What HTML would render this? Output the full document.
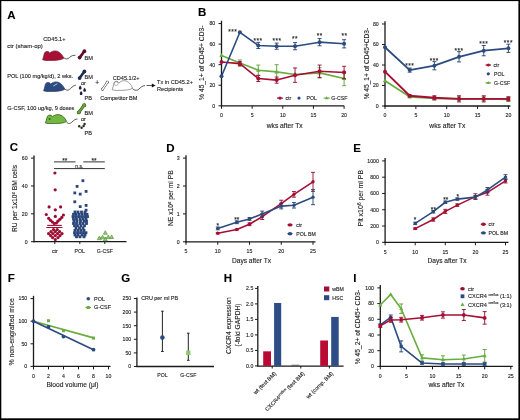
<!DOCTYPE html>
<html><head><meta charset="utf-8"><style>
html,body{margin:0;padding:0;background:#fff;width:520px;height:420px;overflow:hidden}
svg{display:block;filter:blur(0.3px)}
text{font-family:"Liberation Sans", sans-serif; stroke:#222; stroke-width:0.12px; paint-order:stroke}
</style></head><body>
<svg width="520" height="420" viewBox="0 0 520 420" font-family='"Liberation Sans", sans-serif'>
<rect x="0" y="0" width="520" height="420" fill="#fff"/>
<text x="7.3" y="18.5" font-size="11.5" text-anchor="start" fill="#000" font-weight="bold" >A</text>
<text x="198.0" y="16.2" font-size="11.5" text-anchor="start" fill="#000" font-weight="bold" >B</text>
<text x="9.8" y="151.3" font-size="11.5" text-anchor="start" fill="#000" font-weight="bold" >C</text>
<text x="166.3" y="151.5" font-size="11.5" text-anchor="start" fill="#000" font-weight="bold" >D</text>
<text x="353.3" y="151.5" font-size="11.5" text-anchor="start" fill="#000" font-weight="bold" >E</text>
<text x="7.8" y="282.3" font-size="11.5" text-anchor="start" fill="#000" font-weight="bold" >F</text>
<text x="121.3" y="282.3" font-size="11.5" text-anchor="start" fill="#000" font-weight="bold" >G</text>
<text x="223.8" y="282.3" font-size="11.5" text-anchor="start" fill="#000" font-weight="bold" >H</text>
<text x="353.3" y="282.3" font-size="11.5" text-anchor="start" fill="#000" font-weight="bold" >I</text>
<text x="43.2" y="41.3" font-size="5.6" text-anchor="start" fill="#222" font-weight="normal" >CD45.1+</text>
<text x="7.2" y="48.1" font-size="6.0" text-anchor="start" fill="#222" font-weight="normal" >ctr (sham-op)</text>
<g transform="translate(42.4 50.8) scale(1.0 1.12)"><path d="M0.2,8.0 C0.8,6.5 1.5,4.5 1.8,2.8 C2.0,0.8 4.5,0 6.2,0.9 C6.8,1.4 7.0,2.0 7.2,2.2 C9,0.6 11,0 13,0.1 C17,0.3 20,3.5 21.4,6.6 C19,8.2 14,8.6 8,8.6 C5,8.6 2,8.8 0.2,8.0 Z" fill="#a80f35" stroke="#6e0a22" stroke-width="0.6" stroke-linejoin="round"/></g>
<path d="M63.8,57.6 C65.5,59.5 67.5,59.5 69.5,57.5 C71.5,55.5 73.5,55.3 75.5,55.3" fill="none" stroke="#222" stroke-width="0.75"/>
<line x1="79.60" y1="57.60" x2="84.40" y2="51.20" stroke="#5e0d22" stroke-width="2.6" stroke-linecap="round"/>
<circle cx="79.6" cy="57.6" r="1.9" fill="#5e0d22"/>
<circle cx="84.4" cy="51.2" r="1.9" fill="#5e0d22"/>
<text x="84.6" y="60.2" font-size="5.6" text-anchor="start" fill="#222" font-weight="normal" >BM</text>
<text x="7.2" y="78.2" font-size="5.6" text-anchor="start" fill="#222" font-weight="normal" >POL (100 mg/kg/d), 2 wks.</text>
<g transform="translate(43.4 81.8) scale(1.0 1.12)"><path d="M0.2,8.0 C0.8,6.5 1.5,4.5 1.8,2.8 C2.0,0.8 4.5,0 6.2,0.9 C6.8,1.4 7.0,2.0 7.2,2.2 C9,0.6 11,0 13,0.1 C17,0.3 20,3.5 21.4,6.6 C19,8.2 14,8.6 8,8.6 C5,8.6 2,8.8 0.2,8.0 Z" fill="#2b4a80" stroke="#1a2d52" stroke-width="0.6" stroke-linejoin="round"/></g>
<path d="M53.6,85.8 L57,83.9" stroke="#dde6f0" stroke-width="0.8" stroke-linecap="round"/>
<path d="M64.8,88.8 C66.5,90.8 68.5,90.5 70.5,88.5 C72.5,86.5 74.5,85.3 76,85" fill="none" stroke="#222" stroke-width="0.75"/>
<line x1="79.60" y1="78.10" x2="84.40" y2="71.50" stroke="#1f2d50" stroke-width="2.6" stroke-linecap="round"/>
<circle cx="79.6" cy="78.1" r="1.9" fill="#1f2d50"/>
<circle cx="84.4" cy="71.5" r="1.9" fill="#1f2d50"/>
<text x="84.6" y="79.2" font-size="5.6" text-anchor="start" fill="#222" font-weight="normal" >BM</text>
<text x="81.0" y="85.3" font-size="5.6" text-anchor="start" fill="#222" font-weight="normal" >or</text>
<path d="M80.2,85.5 C82.10000000000001,87.5 81.9,89.5 80.2,89.5 C78.5,89.5 78.3,87.5 80.2,85.5 Z" fill="#1a2238"/>
<path d="M84.6,87.7 C86.5,89.7 86.3,91.7 84.6,91.7 C82.89999999999999,91.7 82.69999999999999,89.7 84.6,87.7 Z" fill="#1a2238"/>
<path d="M81.1,91.10000000000001 C83.0,93.10000000000001 82.8,95.10000000000001 81.1,95.10000000000001 C79.39999999999999,95.10000000000001 79.19999999999999,93.10000000000001 81.1,91.10000000000001 Z" fill="#1a2238"/>
<text x="84.6" y="99.5" font-size="5.6" text-anchor="start" fill="#222" font-weight="normal" >PB</text>
<text x="7.2" y="110.3" font-size="5.6" text-anchor="start" fill="#222" font-weight="normal" >G-CSF, 100 ug/kg, 9 doses</text>
<g transform="translate(45.2 114.5) scale(1.0 1.05)"><path d="M0.2,8.0 C0.8,6.5 1.5,4.5 1.8,2.8 C2.0,0.8 4.5,0 6.2,0.9 C6.8,1.4 7.0,2.0 7.2,2.2 C9,0.6 11,0 13,0.1 C17,0.3 20,3.5 21.4,6.6 C19,8.2 14,8.6 8,8.6 C5,8.6 2,8.8 0.2,8.0 Z" fill="#72b843" stroke="#2f5a16" stroke-width="0.75" stroke-linejoin="round"/></g>
<circle cx="49.6" cy="119" r="1.0" fill="#2f6a18"/>
<path d="M66.6,122 C68,124 70,124 72,122 C74,120 75.5,119 77.5,119" fill="none" stroke="#222" stroke-width="0.75"/>
<line x1="78.80" y1="112.40" x2="84.20" y2="105.20" stroke="#2a441a" stroke-width="2.8" stroke-linecap="round"/>
<circle cx="78.8" cy="112.4" r="1.9" fill="#2a441a"/>
<circle cx="84.2" cy="105.2" r="1.9" fill="#2a441a"/>
<line x1="78.80" y1="112.40" x2="84.20" y2="105.20" stroke="#68a63a" stroke-width="1.8" stroke-linecap="round"/>
<circle cx="78.8" cy="112.4" r="1.4" fill="#68a63a"/>
<circle cx="84.2" cy="105.2" r="1.4" fill="#68a63a"/>
<text x="84.6" y="114.5" font-size="5.6" text-anchor="start" fill="#222" font-weight="normal" >BM</text>
<text x="81.0" y="121.2" font-size="5.6" text-anchor="start" fill="#222" font-weight="normal" >or</text>
<circle cx="79.2" cy="126.3" r="1.2" fill="#28301f"/>
<circle cx="81.6" cy="127.8" r="1.2" fill="#28301f"/>
<circle cx="83.6" cy="126.0" r="1.2" fill="#28301f"/>
<circle cx="84.6" cy="124.0" r="1.2" fill="#28301f"/>
<text x="84.6" y="134.6" font-size="5.6" text-anchor="start" fill="#222" font-weight="normal" >PB</text>
<text x="97.2" y="84.8" font-size="6.5" text-anchor="middle" fill="#222" font-weight="normal" >+</text>
<line x1="102.50" y1="89.30" x2="107.30" y2="82.30" stroke="#333" stroke-width="2.2" stroke-linecap="round"/>
<circle cx="102.5" cy="89.3" r="1.45" fill="#333"/>
<circle cx="107.3" cy="82.3" r="1.45" fill="#333"/>
<line x1="102.50" y1="89.30" x2="107.30" y2="82.30" stroke="#fff" stroke-width="1.3" stroke-linecap="round"/>
<circle cx="102.5" cy="89.3" r="1.0" fill="#fff"/>
<circle cx="107.3" cy="82.3" r="1.0" fill="#fff"/>
<text x="112.7" y="79.6" font-size="5.6" text-anchor="start" fill="#222" font-weight="normal" >CD45.1/2+</text>
<g transform="translate(112.0 80.6) scale(0.96 1.14)"><path d="M0.2,8.0 C0.8,6.5 1.5,4.5 1.8,2.8 C2.0,0.8 4.5,0 6.2,0.9 C6.8,1.4 7.0,2.0 7.2,2.2 C9,0.6 11,0 13,0.1 C17,0.3 20,3.5 21.4,6.6 C19,8.2 14,8.6 8,8.6 C5,8.6 2,8.8 0.2,8.0 Z" fill="#fff" stroke="#333" stroke-width="0.45" stroke-linejoin="round"/></g>
<circle cx="116.2" cy="83.6" r="1.9" fill="none" stroke="#555" stroke-width="0.4"/>
<path d="M132.4,88.6 C134.5,90.5 137,91 139,89 C141,87 142.5,85.8 145,85.6" fill="none" stroke="#222" stroke-width="0.75"/>
<line x1="146.50" y1="85.50" x2="152.50" y2="85.50" stroke="#111" stroke-width="0.7" />
<polygon points="155.6,85.5 151.8,83.6 151.8,87.4" fill="#111"/>
<text x="100.2" y="99.6" font-size="5.6" text-anchor="start" fill="#222" font-weight="normal" >Competitor BM</text>
<text x="157.0" y="84.0" font-size="5.6" text-anchor="start" fill="#222" font-weight="normal" >Tx in CD45.2+</text>
<text x="157.0" y="91.2" font-size="5.6" text-anchor="start" fill="#222" font-weight="normal" >Recipients</text>
<line x1="221.50" y1="20.76" x2="221.50" y2="106.45" stroke="#1a1a1a" stroke-width="1.3" />
<line x1="220.85" y1="105.80" x2="344.10" y2="105.80" stroke="#1a1a1a" stroke-width="1.3" />
<line x1="218.50" y1="105.80" x2="221.50" y2="105.80" stroke="#1a1a1a" stroke-width="1.0" />
<text x="215.2" y="107.672" font-size="5.2" text-anchor="end" fill="#222" font-weight="normal" >0</text>
<line x1="218.50" y1="85.24" x2="221.50" y2="85.24" stroke="#1a1a1a" stroke-width="1.0" />
<text x="215.2" y="87.112" font-size="5.2" text-anchor="end" fill="#222" font-weight="normal" >20</text>
<line x1="218.50" y1="64.68" x2="221.50" y2="64.68" stroke="#1a1a1a" stroke-width="1.0" />
<text x="215.2" y="66.55199999999999" font-size="5.2" text-anchor="end" fill="#222" font-weight="normal" >40</text>
<line x1="218.50" y1="44.12" x2="221.50" y2="44.12" stroke="#1a1a1a" stroke-width="1.0" />
<text x="215.2" y="45.992" font-size="5.2" text-anchor="end" fill="#222" font-weight="normal" >60</text>
<line x1="218.50" y1="23.56" x2="221.50" y2="23.56" stroke="#1a1a1a" stroke-width="1.0" />
<text x="215.2" y="25.431999999999988" font-size="5.2" text-anchor="end" fill="#222" font-weight="normal" >80</text>
<line x1="221.50" y1="105.80" x2="221.50" y2="108.80" stroke="#1a1a1a" stroke-width="1.0" />
<text x="221.5" y="117.0" font-size="5.2" text-anchor="middle" fill="#222" font-weight="normal" >0</text>
<line x1="252.15" y1="105.80" x2="252.15" y2="108.80" stroke="#1a1a1a" stroke-width="1.0" />
<text x="252.15" y="117.0" font-size="5.2" text-anchor="middle" fill="#222" font-weight="normal" >5</text>
<line x1="282.80" y1="105.80" x2="282.80" y2="108.80" stroke="#1a1a1a" stroke-width="1.0" />
<text x="282.8" y="117.0" font-size="5.2" text-anchor="middle" fill="#222" font-weight="normal" >10</text>
<line x1="313.45" y1="105.80" x2="313.45" y2="108.80" stroke="#1a1a1a" stroke-width="1.0" />
<text x="313.45" y="117.0" font-size="5.2" text-anchor="middle" fill="#222" font-weight="normal" >15</text>
<line x1="344.10" y1="105.80" x2="344.10" y2="108.80" stroke="#1a1a1a" stroke-width="1.0" />
<text x="344.1" y="117.0" font-size="5.2" text-anchor="middle" fill="#222" font-weight="normal" >20</text>
<text x="284.7" y="128.3" font-size="6.7" text-anchor="middle" fill="#222" font-weight="normal" >wks after Tx</text>
<text x="204.0" y="62.7" font-size="6.7" text-anchor="middle" fill="#222" font-weight="normal" transform="rotate(-90 204.0 62.7)" >% 45_1+ of CD45+ CD3-</text>
<line x1="239.89" y1="59.95" x2="239.89" y2="66.12" stroke="#5f9f38" stroke-width="0.9" />
<line x1="237.89" y1="59.95" x2="241.89" y2="59.95" stroke="#5f9f38" stroke-width="0.9" />
<line x1="237.89" y1="66.12" x2="241.89" y2="66.12" stroke="#5f9f38" stroke-width="0.9" />
<line x1="258.28" y1="65.09" x2="258.28" y2="75.37" stroke="#5f9f38" stroke-width="0.9" />
<line x1="256.28" y1="65.09" x2="260.28" y2="65.09" stroke="#5f9f38" stroke-width="0.9" />
<line x1="256.28" y1="75.37" x2="260.28" y2="75.37" stroke="#5f9f38" stroke-width="0.9" />
<line x1="276.67" y1="64.68" x2="276.67" y2="79.07" stroke="#5f9f38" stroke-width="0.9" />
<line x1="274.67" y1="64.68" x2="278.67" y2="64.68" stroke="#5f9f38" stroke-width="0.9" />
<line x1="274.67" y1="79.07" x2="278.67" y2="79.07" stroke="#5f9f38" stroke-width="0.9" />
<line x1="319.58" y1="67.76" x2="319.58" y2="78.04" stroke="#5f9f38" stroke-width="0.9" />
<line x1="317.58" y1="67.76" x2="321.58" y2="67.76" stroke="#5f9f38" stroke-width="0.9" />
<line x1="317.58" y1="78.04" x2="321.58" y2="78.04" stroke="#5f9f38" stroke-width="0.9" />
<line x1="344.10" y1="71.26" x2="344.10" y2="85.65" stroke="#5f9f38" stroke-width="0.9" />
<line x1="342.10" y1="71.26" x2="346.10" y2="71.26" stroke="#5f9f38" stroke-width="0.9" />
<line x1="342.10" y1="85.65" x2="346.10" y2="85.65" stroke="#5f9f38" stroke-width="0.9" />
<polyline points="221.50,55.43 239.89,63.04 258.28,70.23 276.67,71.88 295.06,74.45 319.58,72.90 344.10,78.46" fill="none" stroke="#68ad3e" stroke-width="1.6" stroke-linejoin="round"/>
<polygon points="221.50,53.01 223.70,56.97 219.30,56.97" fill="#68ad3e"/>
<polygon points="239.89,60.62 242.09,64.58 237.69,64.58" fill="#68ad3e"/>
<polygon points="258.28,67.81 260.48,71.77 256.08,71.77" fill="#68ad3e"/>
<polygon points="276.67,69.46 278.87,73.42 274.47,73.42" fill="#68ad3e"/>
<polygon points="295.06,72.03 297.26,75.99 292.86,75.99" fill="#68ad3e"/>
<polygon points="319.58,70.48 321.78,74.44 317.38,74.44" fill="#68ad3e"/>
<polygon points="344.10,76.04 346.30,80.00 341.90,80.00" fill="#68ad3e"/>
<line x1="239.89" y1="61.60" x2="239.89" y2="65.71" stroke="#8a0b2a" stroke-width="0.9" />
<line x1="237.89" y1="61.60" x2="241.89" y2="61.60" stroke="#8a0b2a" stroke-width="0.9" />
<line x1="237.89" y1="65.71" x2="241.89" y2="65.71" stroke="#8a0b2a" stroke-width="0.9" />
<line x1="258.28" y1="75.37" x2="258.28" y2="81.54" stroke="#8a0b2a" stroke-width="0.9" />
<line x1="256.28" y1="75.37" x2="260.28" y2="75.37" stroke="#8a0b2a" stroke-width="0.9" />
<line x1="256.28" y1="81.54" x2="260.28" y2="81.54" stroke="#8a0b2a" stroke-width="0.9" />
<line x1="276.67" y1="77.02" x2="276.67" y2="83.18" stroke="#8a0b2a" stroke-width="0.9" />
<line x1="274.67" y1="77.02" x2="278.67" y2="77.02" stroke="#8a0b2a" stroke-width="0.9" />
<line x1="274.67" y1="83.18" x2="278.67" y2="83.18" stroke="#8a0b2a" stroke-width="0.9" />
<line x1="295.06" y1="67.97" x2="295.06" y2="82.36" stroke="#8a0b2a" stroke-width="0.9" />
<line x1="293.06" y1="67.97" x2="297.06" y2="67.97" stroke="#8a0b2a" stroke-width="0.9" />
<line x1="293.06" y1="82.36" x2="297.06" y2="82.36" stroke="#8a0b2a" stroke-width="0.9" />
<line x1="319.58" y1="65.09" x2="319.58" y2="77.43" stroke="#8a0b2a" stroke-width="0.9" />
<line x1="317.58" y1="65.09" x2="321.58" y2="65.09" stroke="#8a0b2a" stroke-width="0.9" />
<line x1="317.58" y1="77.43" x2="321.58" y2="77.43" stroke="#8a0b2a" stroke-width="0.9" />
<line x1="344.10" y1="66.32" x2="344.10" y2="78.66" stroke="#8a0b2a" stroke-width="0.9" />
<line x1="342.10" y1="66.32" x2="346.10" y2="66.32" stroke="#8a0b2a" stroke-width="0.9" />
<line x1="342.10" y1="78.66" x2="346.10" y2="78.66" stroke="#8a0b2a" stroke-width="0.9" />
<polyline points="221.50,62.01 239.89,63.65 258.28,78.46 276.67,80.10 295.06,75.17 319.58,71.26 344.10,72.49" fill="none" stroke="#a80e34" stroke-width="1.6" stroke-linejoin="round"/>
<circle cx="221.50" cy="62.01" r="2.0" fill="#a80e34"/>
<circle cx="239.89" cy="63.65" r="2.0" fill="#a80e34"/>
<circle cx="258.28" cy="78.46" r="2.0" fill="#a80e34"/>
<circle cx="276.67" cy="80.10" r="2.0" fill="#a80e34"/>
<circle cx="295.06" cy="75.17" r="2.0" fill="#a80e34"/>
<circle cx="319.58" cy="71.26" r="2.0" fill="#a80e34"/>
<circle cx="344.10" cy="72.49" r="2.0" fill="#a80e34"/>
<line x1="258.28" y1="42.37" x2="258.28" y2="48.54" stroke="#24406e" stroke-width="0.9" />
<line x1="256.28" y1="42.37" x2="260.28" y2="42.37" stroke="#24406e" stroke-width="0.9" />
<line x1="256.28" y1="48.54" x2="260.28" y2="48.54" stroke="#24406e" stroke-width="0.9" />
<line x1="276.67" y1="43.09" x2="276.67" y2="49.26" stroke="#24406e" stroke-width="0.9" />
<line x1="274.67" y1="43.09" x2="278.67" y2="43.09" stroke="#24406e" stroke-width="0.9" />
<line x1="274.67" y1="49.26" x2="278.67" y2="49.26" stroke="#24406e" stroke-width="0.9" />
<line x1="295.06" y1="42.58" x2="295.06" y2="49.77" stroke="#24406e" stroke-width="0.9" />
<line x1="293.06" y1="42.58" x2="297.06" y2="42.58" stroke="#24406e" stroke-width="0.9" />
<line x1="293.06" y1="49.77" x2="297.06" y2="49.77" stroke="#24406e" stroke-width="0.9" />
<line x1="319.58" y1="38.57" x2="319.58" y2="45.76" stroke="#24406e" stroke-width="0.9" />
<line x1="317.58" y1="38.57" x2="321.58" y2="38.57" stroke="#24406e" stroke-width="0.9" />
<line x1="317.58" y1="45.76" x2="321.58" y2="45.76" stroke="#24406e" stroke-width="0.9" />
<line x1="344.10" y1="39.70" x2="344.10" y2="47.92" stroke="#24406e" stroke-width="0.9" />
<line x1="342.10" y1="39.70" x2="346.10" y2="39.70" stroke="#24406e" stroke-width="0.9" />
<line x1="342.10" y1="47.92" x2="346.10" y2="47.92" stroke="#24406e" stroke-width="0.9" />
<polyline points="221.50,76.19 239.89,32.30 258.28,45.46 276.67,46.18 295.06,46.18 319.58,42.17 344.10,43.81" fill="none" stroke="#2c4b80" stroke-width="1.6" stroke-linejoin="round"/>
<circle cx="221.50" cy="76.19" r="2.0" fill="#2c4b80"/>
<circle cx="239.89" cy="32.30" r="2.0" fill="#2c4b80"/>
<circle cx="258.28" cy="45.46" r="2.0" fill="#2c4b80"/>
<circle cx="276.67" cy="46.18" r="2.0" fill="#2c4b80"/>
<circle cx="295.06" cy="46.18" r="2.0" fill="#2c4b80"/>
<circle cx="319.58" cy="42.17" r="2.0" fill="#2c4b80"/>
<circle cx="344.10" cy="43.81" r="2.0" fill="#2c4b80"/>
<text x="232.8" y="34.3" font-size="6.5" text-anchor="middle" fill="#222" font-weight="normal" letter-spacing="0.5">***</text>
<text x="258" y="43" font-size="6.5" text-anchor="middle" fill="#222" font-weight="normal" letter-spacing="0.5">***</text>
<text x="277" y="43" font-size="6.5" text-anchor="middle" fill="#222" font-weight="normal" letter-spacing="0.5">***</text>
<text x="295" y="41" font-size="6.5" text-anchor="middle" fill="#222" font-weight="normal" letter-spacing="0.5">**</text>
<text x="319.7" y="37.5" font-size="6.5" text-anchor="middle" fill="#222" font-weight="normal" letter-spacing="0.5">**</text>
<text x="344.5" y="37.8" font-size="6.5" text-anchor="middle" fill="#222" font-weight="normal" letter-spacing="0.5">**</text>
<circle cx="280.00" cy="98.10" r="1.6" fill="#a80e34"/>
<line x1="277.00" y1="98.10" x2="283.00" y2="98.10" stroke="#a80e34" stroke-width="1.2" />
<text x="285.5" y="100" font-size="5.2" text-anchor="start" fill="#222" font-weight="normal" >ctr</text>
<circle cx="299.00" cy="98.10" r="1.6" fill="#2c4b80"/>
<text x="306.5" y="100" font-size="5.2" text-anchor="start" fill="#222" font-weight="normal" >POL</text>
<polygon points="326.70,96.23 328.40,99.29 325.00,99.29" fill="#68ad3e"/>
<line x1="323.70" y1="98.10" x2="329.70" y2="98.10" stroke="#68ad3e" stroke-width="1.2" />
<text x="331.3" y="100" font-size="5.2" text-anchor="start" fill="#222" font-weight="normal" >G-CSF</text>
<line x1="385.00" y1="21.20" x2="385.00" y2="106.65" stroke="#1a1a1a" stroke-width="1.3" />
<line x1="384.35" y1="106.00" x2="510.40" y2="106.00" stroke="#1a1a1a" stroke-width="1.3" />
<line x1="382.00" y1="106.00" x2="385.00" y2="106.00" stroke="#1a1a1a" stroke-width="1.0" />
<text x="378.7" y="107.872" font-size="5.2" text-anchor="end" fill="#222" font-weight="normal" >0</text>
<line x1="382.00" y1="85.50" x2="385.00" y2="85.50" stroke="#1a1a1a" stroke-width="1.0" />
<text x="378.7" y="87.372" font-size="5.2" text-anchor="end" fill="#222" font-weight="normal" >20</text>
<line x1="382.00" y1="65.00" x2="385.00" y2="65.00" stroke="#1a1a1a" stroke-width="1.0" />
<text x="378.7" y="66.872" font-size="5.2" text-anchor="end" fill="#222" font-weight="normal" >40</text>
<line x1="382.00" y1="44.50" x2="385.00" y2="44.50" stroke="#1a1a1a" stroke-width="1.0" />
<text x="378.7" y="46.37200000000001" font-size="5.2" text-anchor="end" fill="#222" font-weight="normal" >60</text>
<line x1="382.00" y1="24.00" x2="385.00" y2="24.00" stroke="#1a1a1a" stroke-width="1.0" />
<text x="378.7" y="25.872" font-size="5.2" text-anchor="end" fill="#222" font-weight="normal" >80</text>
<line x1="385.00" y1="106.00" x2="385.00" y2="109.00" stroke="#1a1a1a" stroke-width="1.0" />
<text x="385.0" y="117.2" font-size="5.2" text-anchor="middle" fill="#222" font-weight="normal" >0</text>
<line x1="415.85" y1="106.00" x2="415.85" y2="109.00" stroke="#1a1a1a" stroke-width="1.0" />
<text x="415.85" y="117.2" font-size="5.2" text-anchor="middle" fill="#222" font-weight="normal" >5</text>
<line x1="446.70" y1="106.00" x2="446.70" y2="109.00" stroke="#1a1a1a" stroke-width="1.0" />
<text x="446.7" y="117.2" font-size="5.2" text-anchor="middle" fill="#222" font-weight="normal" >10</text>
<line x1="477.55" y1="106.00" x2="477.55" y2="109.00" stroke="#1a1a1a" stroke-width="1.0" />
<text x="477.55" y="117.2" font-size="5.2" text-anchor="middle" fill="#222" font-weight="normal" >15</text>
<line x1="508.40" y1="106.00" x2="508.40" y2="109.00" stroke="#1a1a1a" stroke-width="1.0" />
<text x="508.4" y="117.2" font-size="5.2" text-anchor="middle" fill="#222" font-weight="normal" >20</text>
<text x="447.3" y="128.4" font-size="6.7" text-anchor="middle" fill="#222" font-weight="normal" >wks after Tx</text>
<text x="368.8" y="63.6" font-size="6.6" text-anchor="middle" fill="#222" font-weight="normal" transform="rotate(-90 368.8 63.6)" >% 45_1+ of CD45+CD3-</text>
<line x1="409.68" y1="95.75" x2="409.68" y2="97.80" stroke="#5f9f38" stroke-width="0.9" />
<line x1="407.68" y1="95.75" x2="411.68" y2="95.75" stroke="#5f9f38" stroke-width="0.9" />
<line x1="407.68" y1="97.80" x2="411.68" y2="97.80" stroke="#5f9f38" stroke-width="0.9" />
<line x1="434.36" y1="96.78" x2="434.36" y2="99.85" stroke="#5f9f38" stroke-width="0.9" />
<line x1="432.36" y1="96.78" x2="436.36" y2="96.78" stroke="#5f9f38" stroke-width="0.9" />
<line x1="432.36" y1="99.85" x2="436.36" y2="99.85" stroke="#5f9f38" stroke-width="0.9" />
<line x1="459.04" y1="96.78" x2="459.04" y2="100.88" stroke="#5f9f38" stroke-width="0.9" />
<line x1="457.04" y1="96.78" x2="461.04" y2="96.78" stroke="#5f9f38" stroke-width="0.9" />
<line x1="457.04" y1="100.88" x2="461.04" y2="100.88" stroke="#5f9f38" stroke-width="0.9" />
<line x1="483.72" y1="96.78" x2="483.72" y2="100.88" stroke="#5f9f38" stroke-width="0.9" />
<line x1="481.72" y1="96.78" x2="485.72" y2="96.78" stroke="#5f9f38" stroke-width="0.9" />
<line x1="481.72" y1="100.88" x2="485.72" y2="100.88" stroke="#5f9f38" stroke-width="0.9" />
<line x1="508.40" y1="97.29" x2="508.40" y2="101.39" stroke="#5f9f38" stroke-width="0.9" />
<line x1="506.40" y1="97.29" x2="510.40" y2="97.29" stroke="#5f9f38" stroke-width="0.9" />
<line x1="506.40" y1="101.39" x2="510.40" y2="101.39" stroke="#5f9f38" stroke-width="0.9" />
<polyline points="385.00,80.68 409.68,96.78 434.36,98.31 459.04,98.83 483.72,98.83 508.40,99.34" fill="none" stroke="#68ad3e" stroke-width="1.8" stroke-linejoin="round"/>
<polygon points="385.00,78.26 387.20,82.22 382.80,82.22" fill="#68ad3e"/>
<polygon points="409.68,94.36 411.88,98.32 407.48,98.32" fill="#68ad3e"/>
<polygon points="434.36,95.89 436.56,99.85 432.16,99.85" fill="#68ad3e"/>
<polygon points="459.04,96.41 461.24,100.37 456.84,100.37" fill="#68ad3e"/>
<polygon points="483.72,96.41 485.92,100.37 481.52,100.37" fill="#68ad3e"/>
<polygon points="508.40,96.92 510.60,100.88 506.20,100.88" fill="#68ad3e"/>
<line x1="409.68" y1="94.72" x2="409.68" y2="96.78" stroke="#8a0b2a" stroke-width="0.9" />
<line x1="407.68" y1="94.72" x2="411.68" y2="94.72" stroke="#8a0b2a" stroke-width="0.9" />
<line x1="407.68" y1="96.78" x2="411.68" y2="96.78" stroke="#8a0b2a" stroke-width="0.9" />
<line x1="434.36" y1="95.75" x2="434.36" y2="99.85" stroke="#8a0b2a" stroke-width="0.9" />
<line x1="432.36" y1="95.75" x2="436.36" y2="95.75" stroke="#8a0b2a" stroke-width="0.9" />
<line x1="432.36" y1="99.85" x2="436.36" y2="99.85" stroke="#8a0b2a" stroke-width="0.9" />
<line x1="459.04" y1="95.75" x2="459.04" y2="101.90" stroke="#8a0b2a" stroke-width="0.9" />
<line x1="457.04" y1="95.75" x2="461.04" y2="95.75" stroke="#8a0b2a" stroke-width="0.9" />
<line x1="457.04" y1="101.90" x2="461.04" y2="101.90" stroke="#8a0b2a" stroke-width="0.9" />
<line x1="483.72" y1="95.75" x2="483.72" y2="101.90" stroke="#8a0b2a" stroke-width="0.9" />
<line x1="481.72" y1="95.75" x2="485.72" y2="95.75" stroke="#8a0b2a" stroke-width="0.9" />
<line x1="481.72" y1="101.90" x2="485.72" y2="101.90" stroke="#8a0b2a" stroke-width="0.9" />
<line x1="508.40" y1="96.78" x2="508.40" y2="100.88" stroke="#8a0b2a" stroke-width="0.9" />
<line x1="506.40" y1="96.78" x2="510.40" y2="96.78" stroke="#8a0b2a" stroke-width="0.9" />
<line x1="506.40" y1="100.88" x2="510.40" y2="100.88" stroke="#8a0b2a" stroke-width="0.9" />
<polyline points="385.00,71.66 409.68,95.75 434.36,97.80 459.04,98.83 483.72,98.83 508.40,98.83" fill="none" stroke="#a80e34" stroke-width="1.9" stroke-linejoin="round"/>
<circle cx="385.00" cy="71.66" r="2.0" fill="#a80e34"/>
<circle cx="409.68" cy="95.75" r="2.0" fill="#a80e34"/>
<circle cx="434.36" cy="97.80" r="2.0" fill="#a80e34"/>
<circle cx="459.04" cy="98.83" r="2.0" fill="#a80e34"/>
<circle cx="483.72" cy="98.83" r="2.0" fill="#a80e34"/>
<circle cx="508.40" cy="98.83" r="2.0" fill="#a80e34"/>
<line x1="409.68" y1="68.08" x2="409.68" y2="72.18" stroke="#24406e" stroke-width="0.9" />
<line x1="407.68" y1="68.08" x2="411.68" y2="68.08" stroke="#24406e" stroke-width="0.9" />
<line x1="407.68" y1="72.18" x2="411.68" y2="72.18" stroke="#24406e" stroke-width="0.9" />
<line x1="434.36" y1="61.62" x2="434.36" y2="69.82" stroke="#24406e" stroke-width="0.9" />
<line x1="432.36" y1="61.62" x2="436.36" y2="61.62" stroke="#24406e" stroke-width="0.9" />
<line x1="432.36" y1="69.82" x2="436.36" y2="69.82" stroke="#24406e" stroke-width="0.9" />
<line x1="459.04" y1="51.68" x2="459.04" y2="61.93" stroke="#24406e" stroke-width="0.9" />
<line x1="457.04" y1="51.68" x2="461.04" y2="51.68" stroke="#24406e" stroke-width="0.9" />
<line x1="457.04" y1="61.93" x2="461.04" y2="61.93" stroke="#24406e" stroke-width="0.9" />
<line x1="483.72" y1="45.53" x2="483.72" y2="55.78" stroke="#24406e" stroke-width="0.9" />
<line x1="481.72" y1="45.53" x2="485.72" y2="45.53" stroke="#24406e" stroke-width="0.9" />
<line x1="481.72" y1="55.78" x2="485.72" y2="55.78" stroke="#24406e" stroke-width="0.9" />
<line x1="508.40" y1="44.19" x2="508.40" y2="52.39" stroke="#24406e" stroke-width="0.9" />
<line x1="506.40" y1="44.19" x2="510.40" y2="44.19" stroke="#24406e" stroke-width="0.9" />
<line x1="506.40" y1="52.39" x2="510.40" y2="52.39" stroke="#24406e" stroke-width="0.9" />
<polyline points="385.00,47.27 409.68,70.12 434.36,65.72 459.04,56.80 483.72,50.65 508.40,48.29" fill="none" stroke="#2c4b80" stroke-width="1.8" stroke-linejoin="round"/>
<circle cx="385.00" cy="47.27" r="2.0" fill="#2c4b80"/>
<circle cx="409.68" cy="70.12" r="2.0" fill="#2c4b80"/>
<circle cx="434.36" cy="65.72" r="2.0" fill="#2c4b80"/>
<circle cx="459.04" cy="56.80" r="2.0" fill="#2c4b80"/>
<circle cx="483.72" cy="50.65" r="2.0" fill="#2c4b80"/>
<circle cx="508.40" cy="48.29" r="2.0" fill="#2c4b80"/>
<text x="409.68" y="67.7625" font-size="6.5" text-anchor="middle" fill="#222" font-weight="normal" letter-spacing="0.5">***</text>
<text x="434.36" y="62.6375" font-size="6.5" text-anchor="middle" fill="#222" font-weight="normal" letter-spacing="0.5">***</text>
<text x="459.03999999999996" y="53.4125" font-size="6.5" text-anchor="middle" fill="#222" font-weight="normal" letter-spacing="0.5">***</text>
<text x="483.72" y="45.72500000000001" font-size="6.5" text-anchor="middle" fill="#222" font-weight="normal" letter-spacing="0.5">***</text>
<text x="508.4" y="44.7" font-size="6.5" text-anchor="middle" fill="#222" font-weight="normal" letter-spacing="0.5">***</text>
<circle cx="488.30" cy="65.00" r="1.6" fill="#a80e34"/>
<line x1="485.50" y1="65.00" x2="491.00" y2="65.00" stroke="#a80e34" stroke-width="1.2" />
<text x="493.5" y="67" font-size="5.2" text-anchor="start" fill="#222" font-weight="normal" >ctr</text>
<circle cx="488.30" cy="73.80" r="1.6" fill="#2c4b80"/>
<text x="494" y="75.8" font-size="5.2" text-anchor="start" fill="#222" font-weight="normal" >POL</text>
<polygon points="488.30,80.93 490.00,83.99 486.60,83.99" fill="#68ad3e"/>
<line x1="485.50" y1="82.80" x2="491.00" y2="82.80" stroke="#68ad3e" stroke-width="1.2" />
<text x="494" y="84.8" font-size="5.2" text-anchor="start" fill="#222" font-weight="normal" >G-CSF</text>
<line x1="34.00" y1="155.40" x2="34.00" y2="242.30" stroke="#1a1a1a" stroke-width="1.3" />
<line x1="33.40" y1="241.70" x2="126.50" y2="241.70" stroke="#1a1a1a" stroke-width="1.3" />
<line x1="31.00" y1="241.70" x2="34.00" y2="241.70" stroke="#1a1a1a" stroke-width="1.0" />
<text x="27.6" y="243.6" font-size="5.2" text-anchor="end" fill="#222" font-weight="normal" >0</text>
<line x1="31.00" y1="213.83" x2="34.00" y2="213.83" stroke="#1a1a1a" stroke-width="1.0" />
<text x="27.6" y="215.734" font-size="5.2" text-anchor="end" fill="#222" font-weight="normal" >20</text>
<line x1="31.00" y1="185.97" x2="34.00" y2="185.97" stroke="#1a1a1a" stroke-width="1.0" />
<text x="27.6" y="187.868" font-size="5.2" text-anchor="end" fill="#222" font-weight="normal" >40</text>
<line x1="31.00" y1="158.10" x2="34.00" y2="158.10" stroke="#1a1a1a" stroke-width="1.0" />
<text x="27.6" y="160.00199999999998" font-size="5.2" text-anchor="end" fill="#222" font-weight="normal" >60</text>
<line x1="54.80" y1="241.70" x2="54.80" y2="244.00" stroke="#1a1a1a" stroke-width="1.0" />
<line x1="79.80" y1="241.70" x2="79.80" y2="244.00" stroke="#1a1a1a" stroke-width="1.0" />
<line x1="104.80" y1="241.70" x2="104.80" y2="244.00" stroke="#1a1a1a" stroke-width="1.0" />
<text x="54.8" y="252.5" font-size="5.2" text-anchor="middle" fill="#222" font-weight="normal" >ctr</text>
<text x="79.8" y="252.5" font-size="5.2" text-anchor="middle" fill="#222" font-weight="normal" >POL</text>
<text x="104.8" y="252.5" font-size="5.2" text-anchor="middle" fill="#222" font-weight="normal" >G-CSF</text>
<text x="17.0" y="198.5" font-size="6.7" text-anchor="middle" fill="#222" font-weight="normal" transform="rotate(-90 17.0 198.5)" >RU per 1x10<tspan dy="-2.2" font-size="4.4">6</tspan><tspan dy="2.2"> BM cells</tspan></text>
<line x1="54.00" y1="161.90" x2="75.50" y2="161.90" stroke="#333" stroke-width="1.0" />
<text x="64.7" y="162.8" font-size="6.5" text-anchor="middle" fill="#222" font-weight="normal" >**</text>
<line x1="83.30" y1="161.90" x2="104.80" y2="161.90" stroke="#333" stroke-width="1.0" />
<text x="94" y="162.8" font-size="6.5" text-anchor="middle" fill="#222" font-weight="normal" >**</text>
<line x1="54.00" y1="168.60" x2="104.80" y2="168.60" stroke="#333" stroke-width="1.0" />
<text x="79.4" y="167.6" font-size="5.0" text-anchor="middle" fill="#222" font-weight="normal" >n.s.</text>
<circle cx="54.90" cy="173.00" r="1.6" fill="#9c0c32"/>
<circle cx="55.20" cy="189.80" r="1.6" fill="#9c0c32"/>
<circle cx="49.10" cy="206.90" r="1.6" fill="#9c0c32"/>
<circle cx="55.30" cy="209.80" r="1.6" fill="#9c0c32"/>
<circle cx="60.60" cy="206.90" r="1.6" fill="#9c0c32"/>
<circle cx="46.30" cy="214.50" r="1.6" fill="#9c0c32"/>
<circle cx="55.30" cy="216.40" r="1.6" fill="#9c0c32"/>
<circle cx="63.40" cy="215.00" r="1.6" fill="#9c0c32"/>
<circle cx="48.70" cy="218.30" r="1.6" fill="#9c0c32"/>
<circle cx="50.50" cy="220.30" r="1.6" fill="#9c0c32"/>
<circle cx="52.40" cy="222.00" r="1.6" fill="#9c0c32"/>
<circle cx="54.30" cy="223.50" r="1.6" fill="#9c0c32"/>
<circle cx="61.80" cy="217.40" r="1.6" fill="#9c0c32"/>
<circle cx="59.90" cy="219.30" r="1.6" fill="#9c0c32"/>
<circle cx="57.90" cy="221.20" r="1.6" fill="#9c0c32"/>
<circle cx="56.40" cy="223.00" r="1.6" fill="#9c0c32"/>
<circle cx="53.50" cy="229.60" r="1.6" fill="#9c0c32"/>
<circle cx="57.20" cy="229.60" r="1.6" fill="#9c0c32"/>
<circle cx="51.00" cy="231.60" r="1.6" fill="#9c0c32"/>
<circle cx="55.30" cy="231.60" r="1.6" fill="#9c0c32"/>
<circle cx="59.60" cy="231.60" r="1.6" fill="#9c0c32"/>
<circle cx="48.60" cy="233.60" r="1.6" fill="#9c0c32"/>
<circle cx="52.90" cy="233.60" r="1.6" fill="#9c0c32"/>
<circle cx="57.60" cy="233.60" r="1.6" fill="#9c0c32"/>
<circle cx="62.00" cy="233.60" r="1.6" fill="#9c0c32"/>
<circle cx="50.60" cy="235.60" r="1.6" fill="#9c0c32"/>
<circle cx="55.30" cy="235.60" r="1.6" fill="#9c0c32"/>
<circle cx="60.00" cy="235.60" r="1.6" fill="#9c0c32"/>
<circle cx="52.60" cy="237.60" r="1.6" fill="#9c0c32"/>
<circle cx="58.00" cy="237.60" r="1.6" fill="#9c0c32"/>
<circle cx="55.30" cy="239.60" r="1.6" fill="#9c0c32"/>
<line x1="47.20" y1="225.40" x2="61.80" y2="225.40" stroke="#a30e36" stroke-width="1.1" />
<line x1="46.30" y1="227.50" x2="62.50" y2="227.50" stroke="#a30e36" stroke-width="1.0" />
<rect x="81.50" y="179.30" width="2.8" height="2.8" fill="#2a4678"/>
<rect x="75.70" y="185.00" width="2.8" height="2.8" fill="#2a4678"/>
<rect x="73.40" y="191.50" width="2.8" height="2.8" fill="#2a4678"/>
<rect x="78.80" y="192.70" width="2.8" height="2.8" fill="#2a4678"/>
<rect x="84.70" y="190.00" width="2.8" height="2.8" fill="#2a4678"/>
<rect x="73.40" y="200.40" width="2.8" height="2.8" fill="#2a4678"/>
<rect x="78.80" y="205.20" width="2.8" height="2.8" fill="#2a4678"/>
<rect x="84.70" y="204.00" width="2.8" height="2.8" fill="#2a4678"/>
<rect x="84.70" y="208.80" width="2.8" height="2.8" fill="#2a4678"/>
<rect x="73.60" y="210.60" width="2.8" height="2.8" fill="#2a4678"/>
<rect x="76.60" y="210.60" width="2.8" height="2.8" fill="#2a4678"/>
<rect x="80.10" y="210.60" width="2.8" height="2.8" fill="#2a4678"/>
<rect x="83.60" y="210.60" width="2.8" height="2.8" fill="#2a4678"/>
<rect x="72.10" y="212.90" width="2.8" height="2.8" fill="#2a4678"/>
<rect x="74.60" y="212.90" width="2.8" height="2.8" fill="#2a4678"/>
<rect x="77.60" y="212.90" width="2.8" height="2.8" fill="#2a4678"/>
<rect x="80.60" y="212.90" width="2.8" height="2.8" fill="#2a4678"/>
<rect x="83.60" y="212.90" width="2.8" height="2.8" fill="#2a4678"/>
<rect x="85.60" y="212.90" width="2.8" height="2.8" fill="#2a4678"/>
<rect x="71.60" y="215.20" width="2.8" height="2.8" fill="#2a4678"/>
<rect x="74.60" y="215.20" width="2.8" height="2.8" fill="#2a4678"/>
<rect x="77.60" y="215.20" width="2.8" height="2.8" fill="#2a4678"/>
<rect x="80.60" y="215.20" width="2.8" height="2.8" fill="#2a4678"/>
<rect x="83.60" y="215.20" width="2.8" height="2.8" fill="#2a4678"/>
<rect x="86.10" y="215.20" width="2.8" height="2.8" fill="#2a4678"/>
<rect x="72.10" y="217.50" width="2.8" height="2.8" fill="#2a4678"/>
<rect x="75.10" y="217.50" width="2.8" height="2.8" fill="#2a4678"/>
<rect x="78.60" y="217.50" width="2.8" height="2.8" fill="#2a4678"/>
<rect x="81.60" y="217.50" width="2.8" height="2.8" fill="#2a4678"/>
<rect x="84.60" y="217.50" width="2.8" height="2.8" fill="#2a4678"/>
<rect x="72.60" y="219.80" width="2.8" height="2.8" fill="#2a4678"/>
<rect x="75.60" y="219.80" width="2.8" height="2.8" fill="#2a4678"/>
<rect x="79.10" y="219.80" width="2.8" height="2.8" fill="#2a4678"/>
<rect x="82.60" y="219.80" width="2.8" height="2.8" fill="#2a4678"/>
<rect x="85.10" y="219.80" width="2.8" height="2.8" fill="#2a4678"/>
<rect x="72.10" y="222.10" width="2.8" height="2.8" fill="#2a4678"/>
<rect x="75.10" y="222.10" width="2.8" height="2.8" fill="#2a4678"/>
<rect x="78.60" y="222.10" width="2.8" height="2.8" fill="#2a4678"/>
<rect x="81.60" y="222.10" width="2.8" height="2.8" fill="#2a4678"/>
<rect x="85.10" y="222.10" width="2.8" height="2.8" fill="#2a4678"/>
<rect x="73.10" y="224.40" width="2.8" height="2.8" fill="#2a4678"/>
<rect x="76.10" y="224.40" width="2.8" height="2.8" fill="#2a4678"/>
<rect x="79.60" y="224.40" width="2.8" height="2.8" fill="#2a4678"/>
<rect x="83.10" y="224.40" width="2.8" height="2.8" fill="#2a4678"/>
<rect x="74.60" y="226.70" width="2.8" height="2.8" fill="#2a4678"/>
<rect x="78.10" y="226.70" width="2.8" height="2.8" fill="#2a4678"/>
<rect x="81.60" y="226.70" width="2.8" height="2.8" fill="#2a4678"/>
<rect x="73.60" y="229.00" width="2.8" height="2.8" fill="#2a4678"/>
<rect x="76.60" y="229.00" width="2.8" height="2.8" fill="#2a4678"/>
<rect x="79.60" y="229.00" width="2.8" height="2.8" fill="#2a4678"/>
<rect x="82.60" y="229.00" width="2.8" height="2.8" fill="#2a4678"/>
<rect x="73.10" y="231.30" width="2.8" height="2.8" fill="#2a4678"/>
<rect x="76.10" y="231.30" width="2.8" height="2.8" fill="#2a4678"/>
<rect x="79.10" y="231.30" width="2.8" height="2.8" fill="#2a4678"/>
<rect x="82.10" y="231.30" width="2.8" height="2.8" fill="#2a4678"/>
<rect x="84.60" y="231.30" width="2.8" height="2.8" fill="#2a4678"/>
<rect x="73.60" y="233.60" width="2.8" height="2.8" fill="#2a4678"/>
<rect x="76.60" y="233.60" width="2.8" height="2.8" fill="#2a4678"/>
<rect x="80.60" y="233.60" width="2.8" height="2.8" fill="#2a4678"/>
<rect x="83.60" y="233.60" width="2.8" height="2.8" fill="#2a4678"/>
<rect x="75.10" y="235.40" width="2.8" height="2.8" fill="#2a4678"/>
<rect x="78.60" y="235.40" width="2.8" height="2.8" fill="#2a4678"/>
<rect x="82.60" y="235.40" width="2.8" height="2.8" fill="#2a4678"/>
<line x1="73.00" y1="216.40" x2="88.20" y2="216.40" stroke="#2c4b80" stroke-width="1.0" />
<line x1="98.00" y1="237.80" x2="113.00" y2="237.80" stroke="#7cc05a" stroke-width="1.0" />
<polygon points="105.30,230.70 107.30,234.30 103.30,234.30" fill="#95d072" stroke="#4f8a33" stroke-width="0.6"/>
<polygon points="99.30,236.10 101.30,239.70 97.30,239.70" fill="#95d072" stroke="#4f8a33" stroke-width="0.6"/>
<polygon points="111.60,234.90 113.60,238.50 109.60,238.50" fill="#95d072" stroke="#4f8a33" stroke-width="0.6"/>
<polygon points="105.30,237.30 107.30,240.90 103.30,240.90" fill="#95d072" stroke="#4f8a33" stroke-width="0.6"/>
<polygon points="102.50,235.20 104.50,238.80 100.50,238.80" fill="#95d072" stroke="#4f8a33" stroke-width="0.6"/>
<polygon points="108.20,235.00 110.20,238.60 106.20,238.60" fill="#95d072" stroke="#4f8a33" stroke-width="0.6"/>
<line x1="186.00" y1="155.30" x2="186.00" y2="242.45" stroke="#1a1a1a" stroke-width="1.3" />
<line x1="185.35" y1="241.80" x2="315.50" y2="241.80" stroke="#1a1a1a" stroke-width="1.3" />
<line x1="183.00" y1="241.80" x2="186.00" y2="241.80" stroke="#1a1a1a" stroke-width="1.0" />
<text x="179.7" y="243.67200000000003" font-size="5.2" text-anchor="end" fill="#222" font-weight="normal" >0</text>
<line x1="183.00" y1="213.90" x2="186.00" y2="213.90" stroke="#1a1a1a" stroke-width="1.0" />
<text x="179.7" y="215.772" font-size="5.2" text-anchor="end" fill="#222" font-weight="normal" >1</text>
<line x1="183.00" y1="186.00" x2="186.00" y2="186.00" stroke="#1a1a1a" stroke-width="1.0" />
<text x="179.7" y="187.872" font-size="5.2" text-anchor="end" fill="#222" font-weight="normal" >2</text>
<line x1="183.00" y1="158.10" x2="186.00" y2="158.10" stroke="#1a1a1a" stroke-width="1.0" />
<text x="179.7" y="159.97200000000004" font-size="5.2" text-anchor="end" fill="#222" font-weight="normal" >3</text>
<line x1="186.00" y1="241.80" x2="186.00" y2="244.80" stroke="#1a1a1a" stroke-width="1.0" />
<text x="186.0" y="253.0" font-size="5.2" text-anchor="middle" fill="#222" font-weight="normal" >5</text>
<line x1="217.75" y1="241.80" x2="217.75" y2="244.80" stroke="#1a1a1a" stroke-width="1.0" />
<text x="217.75" y="253.0" font-size="5.2" text-anchor="middle" fill="#222" font-weight="normal" >10</text>
<line x1="249.50" y1="241.80" x2="249.50" y2="244.80" stroke="#1a1a1a" stroke-width="1.0" />
<text x="249.5" y="253.0" font-size="5.2" text-anchor="middle" fill="#222" font-weight="normal" >15</text>
<line x1="281.25" y1="241.80" x2="281.25" y2="244.80" stroke="#1a1a1a" stroke-width="1.0" />
<text x="281.25" y="253.0" font-size="5.2" text-anchor="middle" fill="#222" font-weight="normal" >20</text>
<line x1="313.00" y1="241.80" x2="313.00" y2="244.80" stroke="#1a1a1a" stroke-width="1.0" />
<text x="313.0" y="253.0" font-size="5.2" text-anchor="middle" fill="#222" font-weight="normal" >25</text>
<text x="251.5" y="263.0" font-size="6.6" text-anchor="middle" fill="#222" font-weight="normal" >Days after Tx</text>
<text x="173.2" y="198.2" font-size="6.7" text-anchor="middle" fill="#222" font-weight="normal" transform="rotate(-90 173.2 198.2)" >NE x10<tspan dy="-2.2" font-size="4.4">6</tspan><tspan dy="2.2"> per ml PB</tspan></text>
<line x1="217.75" y1="232.73" x2="217.75" y2="233.85" stroke="#8a0b2a" stroke-width="0.9" />
<line x1="215.75" y1="232.73" x2="219.75" y2="232.73" stroke="#8a0b2a" stroke-width="0.9" />
<line x1="215.75" y1="233.85" x2="219.75" y2="233.85" stroke="#8a0b2a" stroke-width="0.9" />
<line x1="236.80" y1="228.97" x2="236.80" y2="230.08" stroke="#8a0b2a" stroke-width="0.9" />
<line x1="234.80" y1="228.97" x2="238.80" y2="228.97" stroke="#8a0b2a" stroke-width="0.9" />
<line x1="234.80" y1="230.08" x2="238.80" y2="230.08" stroke="#8a0b2a" stroke-width="0.9" />
<line x1="249.50" y1="222.83" x2="249.50" y2="225.62" stroke="#8a0b2a" stroke-width="0.9" />
<line x1="247.50" y1="222.83" x2="251.50" y2="222.83" stroke="#8a0b2a" stroke-width="0.9" />
<line x1="247.50" y1="225.62" x2="251.50" y2="225.62" stroke="#8a0b2a" stroke-width="0.9" />
<line x1="262.20" y1="213.90" x2="262.20" y2="219.48" stroke="#8a0b2a" stroke-width="0.9" />
<line x1="260.20" y1="213.90" x2="264.20" y2="213.90" stroke="#8a0b2a" stroke-width="0.9" />
<line x1="260.20" y1="219.48" x2="264.20" y2="219.48" stroke="#8a0b2a" stroke-width="0.9" />
<line x1="281.25" y1="200.23" x2="281.25" y2="206.93" stroke="#8a0b2a" stroke-width="0.9" />
<line x1="279.25" y1="200.23" x2="283.25" y2="200.23" stroke="#8a0b2a" stroke-width="0.9" />
<line x1="279.25" y1="206.93" x2="283.25" y2="206.93" stroke="#8a0b2a" stroke-width="0.9" />
<line x1="293.95" y1="191.58" x2="293.95" y2="197.16" stroke="#8a0b2a" stroke-width="0.9" />
<line x1="291.95" y1="191.58" x2="295.95" y2="191.58" stroke="#8a0b2a" stroke-width="0.9" />
<line x1="291.95" y1="197.16" x2="295.95" y2="197.16" stroke="#8a0b2a" stroke-width="0.9" />
<line x1="313.00" y1="172.33" x2="313.00" y2="191.30" stroke="#8a0b2a" stroke-width="0.9" />
<line x1="311.00" y1="172.33" x2="315.00" y2="172.33" stroke="#8a0b2a" stroke-width="0.9" />
<line x1="311.00" y1="191.30" x2="315.00" y2="191.30" stroke="#8a0b2a" stroke-width="0.9" />
<polyline points="217.75,233.29 236.80,229.52 249.50,224.22 262.20,216.69 281.25,203.58 293.95,194.37 313.00,181.82" fill="none" stroke="#a80e34" stroke-width="1.6" stroke-linejoin="round"/>
<circle cx="217.75" cy="233.29" r="1.7" fill="#a80e34"/>
<circle cx="236.80" cy="229.52" r="1.7" fill="#a80e34"/>
<circle cx="249.50" cy="224.22" r="1.7" fill="#a80e34"/>
<circle cx="262.20" cy="216.69" r="1.7" fill="#a80e34"/>
<circle cx="281.25" cy="203.58" r="1.7" fill="#a80e34"/>
<circle cx="293.95" cy="194.37" r="1.7" fill="#a80e34"/>
<circle cx="313.00" cy="181.82" r="1.7" fill="#a80e34"/>
<line x1="217.75" y1="227.01" x2="217.75" y2="229.80" stroke="#24406e" stroke-width="0.9" />
<line x1="215.75" y1="227.01" x2="219.75" y2="227.01" stroke="#24406e" stroke-width="0.9" />
<line x1="215.75" y1="229.80" x2="219.75" y2="229.80" stroke="#24406e" stroke-width="0.9" />
<line x1="236.80" y1="220.88" x2="236.80" y2="223.67" stroke="#24406e" stroke-width="0.9" />
<line x1="234.80" y1="220.88" x2="238.80" y2="220.88" stroke="#24406e" stroke-width="0.9" />
<line x1="234.80" y1="223.67" x2="238.80" y2="223.67" stroke="#24406e" stroke-width="0.9" />
<line x1="249.50" y1="217.53" x2="249.50" y2="220.32" stroke="#24406e" stroke-width="0.9" />
<line x1="247.50" y1="217.53" x2="251.50" y2="217.53" stroke="#24406e" stroke-width="0.9" />
<line x1="247.50" y1="220.32" x2="251.50" y2="220.32" stroke="#24406e" stroke-width="0.9" />
<line x1="262.20" y1="211.11" x2="262.20" y2="216.69" stroke="#24406e" stroke-width="0.9" />
<line x1="260.20" y1="211.11" x2="264.20" y2="211.11" stroke="#24406e" stroke-width="0.9" />
<line x1="260.20" y1="216.69" x2="264.20" y2="216.69" stroke="#24406e" stroke-width="0.9" />
<line x1="281.25" y1="203.30" x2="281.25" y2="208.88" stroke="#24406e" stroke-width="0.9" />
<line x1="279.25" y1="203.30" x2="283.25" y2="203.30" stroke="#24406e" stroke-width="0.9" />
<line x1="279.25" y1="208.88" x2="283.25" y2="208.88" stroke="#24406e" stroke-width="0.9" />
<line x1="293.95" y1="202.46" x2="293.95" y2="208.04" stroke="#24406e" stroke-width="0.9" />
<line x1="291.95" y1="202.46" x2="295.95" y2="202.46" stroke="#24406e" stroke-width="0.9" />
<line x1="291.95" y1="208.04" x2="295.95" y2="208.04" stroke="#24406e" stroke-width="0.9" />
<line x1="313.00" y1="189.63" x2="313.00" y2="204.69" stroke="#24406e" stroke-width="0.9" />
<line x1="311.00" y1="189.63" x2="315.00" y2="189.63" stroke="#24406e" stroke-width="0.9" />
<line x1="311.00" y1="204.69" x2="315.00" y2="204.69" stroke="#24406e" stroke-width="0.9" />
<polyline points="217.75,228.41 236.80,222.27 249.50,218.92 262.20,213.90 281.25,206.09 293.95,205.25 313.00,197.16" fill="none" stroke="#2c4b80" stroke-width="1.6" stroke-linejoin="round"/>
<circle cx="217.75" cy="228.41" r="1.7" fill="#2c4b80"/>
<circle cx="236.80" cy="222.27" r="1.7" fill="#2c4b80"/>
<circle cx="249.50" cy="218.92" r="1.7" fill="#2c4b80"/>
<circle cx="262.20" cy="213.90" r="1.7" fill="#2c4b80"/>
<circle cx="281.25" cy="206.09" r="1.7" fill="#2c4b80"/>
<circle cx="293.95" cy="205.25" r="1.7" fill="#2c4b80"/>
<circle cx="313.00" cy="197.16" r="1.7" fill="#2c4b80"/>
<text x="217.8" y="227.5" font-size="6.5" text-anchor="middle" fill="#222" font-weight="normal" >*</text>
<text x="236.8" y="221.5" font-size="6.5" text-anchor="middle" fill="#222" font-weight="normal" >**</text>
<ellipse cx="290" cy="224.9" rx="2.3" ry="1.7" fill="#a80e34"/>
<line x1="287.30" y1="224.90" x2="292.70" y2="224.90" stroke="#a80e34" stroke-width="0.8" />
<text x="296.3" y="226.8" font-size="5.2" text-anchor="start" fill="#222" font-weight="normal" >ctr</text>
<ellipse cx="290" cy="233.7" rx="2.3" ry="1.7" fill="#2c4b80"/>
<line x1="287.30" y1="233.70" x2="292.70" y2="233.70" stroke="#2c4b80" stroke-width="0.8" />
<text x="296.3" y="235.6" font-size="5.2" text-anchor="start" fill="#222" font-weight="normal" >POL BM</text>
<line x1="385.10" y1="158.10" x2="385.10" y2="242.95" stroke="#1a1a1a" stroke-width="1.3" />
<line x1="384.45" y1="242.30" x2="508.50" y2="242.30" stroke="#1a1a1a" stroke-width="1.3" />
<line x1="382.10" y1="242.30" x2="385.10" y2="242.30" stroke="#1a1a1a" stroke-width="1.0" />
<text x="378.8" y="244.17200000000003" font-size="5.2" text-anchor="end" fill="#222" font-weight="normal" >0</text>
<line x1="382.10" y1="226.02" x2="385.10" y2="226.02" stroke="#1a1a1a" stroke-width="1.0" />
<text x="378.8" y="227.892" font-size="5.2" text-anchor="end" fill="#222" font-weight="normal" >200</text>
<line x1="382.10" y1="209.74" x2="385.10" y2="209.74" stroke="#1a1a1a" stroke-width="1.0" />
<text x="378.8" y="211.61200000000002" font-size="5.2" text-anchor="end" fill="#222" font-weight="normal" >400</text>
<line x1="382.10" y1="193.46" x2="385.10" y2="193.46" stroke="#1a1a1a" stroke-width="1.0" />
<text x="378.8" y="195.332" font-size="5.2" text-anchor="end" fill="#222" font-weight="normal" >600</text>
<line x1="382.10" y1="177.18" x2="385.10" y2="177.18" stroke="#1a1a1a" stroke-width="1.0" />
<text x="378.8" y="179.05200000000002" font-size="5.2" text-anchor="end" fill="#222" font-weight="normal" >800</text>
<line x1="382.10" y1="160.90" x2="385.10" y2="160.90" stroke="#1a1a1a" stroke-width="1.0" />
<text x="378.8" y="162.772" font-size="5.2" text-anchor="end" fill="#222" font-weight="normal" >1000</text>
<line x1="385.10" y1="242.30" x2="385.10" y2="245.30" stroke="#1a1a1a" stroke-width="1.0" />
<text x="385.1" y="253.5" font-size="5.2" text-anchor="middle" fill="#222" font-weight="normal" >5</text>
<line x1="415.20" y1="242.30" x2="415.20" y2="245.30" stroke="#1a1a1a" stroke-width="1.0" />
<text x="415.20000000000005" y="253.5" font-size="5.2" text-anchor="middle" fill="#222" font-weight="normal" >10</text>
<line x1="445.30" y1="242.30" x2="445.30" y2="245.30" stroke="#1a1a1a" stroke-width="1.0" />
<text x="445.3" y="253.5" font-size="5.2" text-anchor="middle" fill="#222" font-weight="normal" >15</text>
<line x1="475.40" y1="242.30" x2="475.40" y2="245.30" stroke="#1a1a1a" stroke-width="1.0" />
<text x="475.40000000000003" y="253.5" font-size="5.2" text-anchor="middle" fill="#222" font-weight="normal" >20</text>
<line x1="505.50" y1="242.30" x2="505.50" y2="245.30" stroke="#1a1a1a" stroke-width="1.0" />
<text x="505.5" y="253.5" font-size="5.2" text-anchor="middle" fill="#222" font-weight="normal" >25</text>
<text x="447.0" y="263.0" font-size="6.6" text-anchor="middle" fill="#222" font-weight="normal" >Days after Tx</text>
<text x="363.0" y="198.2" font-size="7.0" text-anchor="middle" fill="#222" font-weight="normal" transform="rotate(-90 363.0 198.2)" >Plt x10<tspan dy="-2.3" font-size="4.6">6</tspan><tspan dy="2.3"> per ml PB</tspan></text>
<line x1="415.20" y1="227.81" x2="415.20" y2="229.44" stroke="#8a0b2a" stroke-width="0.9" />
<line x1="413.20" y1="227.81" x2="417.20" y2="227.81" stroke="#8a0b2a" stroke-width="0.9" />
<line x1="413.20" y1="229.44" x2="417.20" y2="229.44" stroke="#8a0b2a" stroke-width="0.9" />
<line x1="433.26" y1="217.88" x2="433.26" y2="221.14" stroke="#8a0b2a" stroke-width="0.9" />
<line x1="431.26" y1="217.88" x2="435.26" y2="217.88" stroke="#8a0b2a" stroke-width="0.9" />
<line x1="431.26" y1="221.14" x2="435.26" y2="221.14" stroke="#8a0b2a" stroke-width="0.9" />
<line x1="445.30" y1="209.33" x2="445.30" y2="213.40" stroke="#8a0b2a" stroke-width="0.9" />
<line x1="443.30" y1="209.33" x2="447.30" y2="209.33" stroke="#8a0b2a" stroke-width="0.9" />
<line x1="443.30" y1="213.40" x2="447.30" y2="213.40" stroke="#8a0b2a" stroke-width="0.9" />
<line x1="457.34" y1="203.88" x2="457.34" y2="206.32" stroke="#8a0b2a" stroke-width="0.9" />
<line x1="455.34" y1="203.88" x2="459.34" y2="203.88" stroke="#8a0b2a" stroke-width="0.9" />
<line x1="455.34" y1="206.32" x2="459.34" y2="206.32" stroke="#8a0b2a" stroke-width="0.9" />
<line x1="475.40" y1="193.79" x2="475.40" y2="199.48" stroke="#8a0b2a" stroke-width="0.9" />
<line x1="473.40" y1="193.79" x2="477.40" y2="193.79" stroke="#8a0b2a" stroke-width="0.9" />
<line x1="473.40" y1="199.48" x2="477.40" y2="199.48" stroke="#8a0b2a" stroke-width="0.9" />
<line x1="487.44" y1="189.47" x2="487.44" y2="195.17" stroke="#8a0b2a" stroke-width="0.9" />
<line x1="485.44" y1="189.47" x2="489.44" y2="189.47" stroke="#8a0b2a" stroke-width="0.9" />
<line x1="485.44" y1="195.17" x2="489.44" y2="195.17" stroke="#8a0b2a" stroke-width="0.9" />
<line x1="505.50" y1="178.89" x2="505.50" y2="182.96" stroke="#8a0b2a" stroke-width="0.9" />
<line x1="503.50" y1="178.89" x2="507.50" y2="178.89" stroke="#8a0b2a" stroke-width="0.9" />
<line x1="503.50" y1="182.96" x2="507.50" y2="182.96" stroke="#8a0b2a" stroke-width="0.9" />
<polyline points="415.20,228.62 433.26,219.51 445.30,211.37 457.34,205.10 475.40,196.63 487.44,192.32 505.50,180.92" fill="none" stroke="#a80e34" stroke-width="1.6" stroke-linejoin="round"/>
<circle cx="415.20" cy="228.62" r="1.7" fill="#a80e34"/>
<circle cx="433.26" cy="219.51" r="1.7" fill="#a80e34"/>
<circle cx="445.30" cy="211.37" r="1.7" fill="#a80e34"/>
<circle cx="457.34" cy="205.10" r="1.7" fill="#a80e34"/>
<circle cx="475.40" cy="196.63" r="1.7" fill="#a80e34"/>
<circle cx="487.44" cy="192.32" r="1.7" fill="#a80e34"/>
<circle cx="505.50" cy="180.92" r="1.7" fill="#a80e34"/>
<line x1="415.20" y1="222.19" x2="415.20" y2="224.64" stroke="#24406e" stroke-width="0.9" />
<line x1="413.20" y1="222.19" x2="417.20" y2="222.19" stroke="#24406e" stroke-width="0.9" />
<line x1="413.20" y1="224.64" x2="417.20" y2="224.64" stroke="#24406e" stroke-width="0.9" />
<line x1="433.26" y1="210.47" x2="433.26" y2="212.91" stroke="#24406e" stroke-width="0.9" />
<line x1="431.26" y1="210.47" x2="435.26" y2="210.47" stroke="#24406e" stroke-width="0.9" />
<line x1="431.26" y1="212.91" x2="435.26" y2="212.91" stroke="#24406e" stroke-width="0.9" />
<line x1="445.30" y1="201.03" x2="445.30" y2="203.47" stroke="#24406e" stroke-width="0.9" />
<line x1="443.30" y1="201.03" x2="447.30" y2="201.03" stroke="#24406e" stroke-width="0.9" />
<line x1="443.30" y1="203.47" x2="447.30" y2="203.47" stroke="#24406e" stroke-width="0.9" />
<line x1="457.34" y1="197.86" x2="457.34" y2="200.30" stroke="#24406e" stroke-width="0.9" />
<line x1="455.34" y1="197.86" x2="459.34" y2="197.86" stroke="#24406e" stroke-width="0.9" />
<line x1="455.34" y1="200.30" x2="459.34" y2="200.30" stroke="#24406e" stroke-width="0.9" />
<line x1="475.40" y1="195.50" x2="475.40" y2="198.75" stroke="#24406e" stroke-width="0.9" />
<line x1="473.40" y1="195.50" x2="477.40" y2="195.50" stroke="#24406e" stroke-width="0.9" />
<line x1="473.40" y1="198.75" x2="477.40" y2="198.75" stroke="#24406e" stroke-width="0.9" />
<line x1="487.44" y1="187.52" x2="487.44" y2="192.40" stroke="#24406e" stroke-width="0.9" />
<line x1="485.44" y1="187.52" x2="489.44" y2="187.52" stroke="#24406e" stroke-width="0.9" />
<line x1="485.44" y1="192.40" x2="489.44" y2="192.40" stroke="#24406e" stroke-width="0.9" />
<line x1="505.50" y1="174.66" x2="505.50" y2="179.54" stroke="#24406e" stroke-width="0.9" />
<line x1="503.50" y1="174.66" x2="507.50" y2="174.66" stroke="#24406e" stroke-width="0.9" />
<line x1="503.50" y1="179.54" x2="507.50" y2="179.54" stroke="#24406e" stroke-width="0.9" />
<polyline points="415.20,223.42 433.26,211.69 445.30,202.25 457.34,199.08 475.40,197.12 487.44,189.96 505.50,177.10" fill="none" stroke="#2c4b80" stroke-width="1.6" stroke-linejoin="round"/>
<circle cx="415.20" cy="223.42" r="1.7" fill="#2c4b80"/>
<circle cx="433.26" cy="211.69" r="1.7" fill="#2c4b80"/>
<circle cx="445.30" cy="202.25" r="1.7" fill="#2c4b80"/>
<circle cx="457.34" cy="199.08" r="1.7" fill="#2c4b80"/>
<circle cx="475.40" cy="197.12" r="1.7" fill="#2c4b80"/>
<circle cx="487.44" cy="189.96" r="1.7" fill="#2c4b80"/>
<circle cx="505.50" cy="177.10" r="1.7" fill="#2c4b80"/>
<text x="415.1" y="222.0" font-size="6.5" text-anchor="middle" fill="#222" font-weight="normal" >*</text>
<text x="433.4" y="211.5" font-size="6.5" text-anchor="middle" fill="#222" font-weight="normal" >**</text>
<text x="445.7" y="202.0" font-size="6.5" text-anchor="middle" fill="#222" font-weight="normal" >**</text>
<text x="457.7" y="198.5" font-size="6.5" text-anchor="middle" fill="#222" font-weight="normal" >*</text>
<ellipse cx="483.4" cy="224.3" rx="2.3" ry="1.7" fill="#a80e34"/>
<line x1="480.70" y1="224.30" x2="486.10" y2="224.30" stroke="#a80e34" stroke-width="0.8" />
<text x="488.6" y="226.2" font-size="5.2" text-anchor="start" fill="#222" font-weight="normal" >ctr</text>
<ellipse cx="483.4" cy="232.9" rx="2.3" ry="1.7" fill="#2c4b80"/>
<line x1="480.70" y1="232.90" x2="486.10" y2="232.90" stroke="#2c4b80" stroke-width="0.8" />
<text x="488.6" y="234.8" font-size="5.2" text-anchor="start" fill="#222" font-weight="normal" >POL BM</text>
<line x1="33.50" y1="295.80" x2="33.50" y2="367.05" stroke="#1a1a1a" stroke-width="1.3" />
<line x1="32.85" y1="366.40" x2="110.50" y2="366.40" stroke="#1a1a1a" stroke-width="1.3" />
<line x1="30.50" y1="366.40" x2="33.50" y2="366.40" stroke="#1a1a1a" stroke-width="1.0" />
<text x="27.2" y="368.272" font-size="5.2" text-anchor="end" fill="#222" font-weight="normal" >0</text>
<line x1="30.50" y1="343.80" x2="33.50" y2="343.80" stroke="#1a1a1a" stroke-width="1.0" />
<text x="27.2" y="345.67199999999997" font-size="5.2" text-anchor="end" fill="#222" font-weight="normal" >50</text>
<line x1="30.50" y1="321.20" x2="33.50" y2="321.20" stroke="#1a1a1a" stroke-width="1.0" />
<text x="27.2" y="323.072" font-size="5.2" text-anchor="end" fill="#222" font-weight="normal" >100</text>
<line x1="30.50" y1="298.60" x2="33.50" y2="298.60" stroke="#1a1a1a" stroke-width="1.0" />
<text x="27.2" y="300.472" font-size="5.2" text-anchor="end" fill="#222" font-weight="normal" >150</text>
<line x1="33.50" y1="366.40" x2="33.50" y2="369.40" stroke="#1a1a1a" stroke-width="1.0" />
<text x="33.5" y="377.59999999999997" font-size="5.2" text-anchor="middle" fill="#222" font-weight="normal" >0</text>
<line x1="48.50" y1="366.40" x2="48.50" y2="369.40" stroke="#1a1a1a" stroke-width="1.0" />
<text x="48.5" y="377.59999999999997" font-size="5.2" text-anchor="middle" fill="#222" font-weight="normal" >2</text>
<line x1="63.50" y1="366.40" x2="63.50" y2="369.40" stroke="#1a1a1a" stroke-width="1.0" />
<text x="63.5" y="377.59999999999997" font-size="5.2" text-anchor="middle" fill="#222" font-weight="normal" >4</text>
<line x1="78.50" y1="366.40" x2="78.50" y2="369.40" stroke="#1a1a1a" stroke-width="1.0" />
<text x="78.5" y="377.59999999999997" font-size="5.2" text-anchor="middle" fill="#222" font-weight="normal" >6</text>
<line x1="93.50" y1="366.40" x2="93.50" y2="369.40" stroke="#1a1a1a" stroke-width="1.0" />
<text x="93.5" y="377.59999999999997" font-size="5.2" text-anchor="middle" fill="#222" font-weight="normal" >8</text>
<line x1="108.50" y1="366.40" x2="108.50" y2="369.40" stroke="#1a1a1a" stroke-width="1.0" />
<text x="108.5" y="377.59999999999997" font-size="5.2" text-anchor="middle" fill="#222" font-weight="normal" >10</text>
<text x="72.5" y="387.3" font-size="6.7" text-anchor="middle" fill="#222" font-weight="normal" >Blood volume (μl)</text>
<text x="14.0" y="331.9" font-size="6.9" text-anchor="middle" fill="#222" font-weight="normal" transform="rotate(-90 14.0 331.9)" >% non-engrafted mice</text>
<polyline points="33.50,321.20 93.50,337.92" fill="none" stroke="#68ad3e" stroke-width="1.7" stroke-linejoin="round"/>
<polyline points="33.50,321.20 93.50,349.68" fill="none" stroke="#2c4b80" stroke-width="1.7" stroke-linejoin="round"/>
<rect x="47.00" y="319.25" width="3.0" height="3.0" fill="#68ad3e"/>
<rect x="62.00" y="329.19" width="3.0" height="3.0" fill="#68ad3e"/>
<rect x="92.00" y="336.60" width="3.0" height="3.0" fill="#68ad3e"/>
<circle cx="33.50" cy="321.20" r="1.9" fill="#2c4b80"/>
<circle cx="48.50" cy="326.80" r="1.9" fill="#2c4b80"/>
<circle cx="63.50" cy="336.57" r="1.9" fill="#2c4b80"/>
<circle cx="93.50" cy="349.68" r="1.9" fill="#2c4b80"/>
<circle cx="88.30" cy="298.70" r="1.8" fill="#2c4b80"/>
<text x="94.0" y="300.6" font-size="5.5" text-anchor="start" fill="#222" font-weight="normal" >POL</text>
<rect x="86.80" y="306.00" width="3.0" height="3.0" fill="#68ad3e"/>
<line x1="85.50" y1="307.50" x2="91.00" y2="307.50" stroke="#68ad3e" stroke-width="1.2" />
<text x="94.0" y="309.4" font-size="5.5" text-anchor="start" fill="#222" font-weight="normal" >G-CSF</text>
<line x1="136.90" y1="297.50" x2="136.90" y2="367.10" stroke="#1a1a1a" stroke-width="1.3" />
<line x1="136.30" y1="366.50" x2="214.00" y2="366.50" stroke="#1a1a1a" stroke-width="1.3" />
<line x1="133.90" y1="366.50" x2="136.90" y2="366.50" stroke="#1a1a1a" stroke-width="1.0" />
<text x="131.2" y="368.4" font-size="5.2" text-anchor="end" fill="#222" font-weight="normal" >0</text>
<line x1="133.90" y1="352.90" x2="136.90" y2="352.90" stroke="#1a1a1a" stroke-width="1.0" />
<text x="131.2" y="354.79999999999995" font-size="5.2" text-anchor="end" fill="#222" font-weight="normal" >50</text>
<line x1="133.90" y1="339.30" x2="136.90" y2="339.30" stroke="#1a1a1a" stroke-width="1.0" />
<text x="131.2" y="341.2" font-size="5.2" text-anchor="end" fill="#222" font-weight="normal" >100</text>
<line x1="133.90" y1="325.70" x2="136.90" y2="325.70" stroke="#1a1a1a" stroke-width="1.0" />
<text x="131.2" y="327.59999999999997" font-size="5.2" text-anchor="end" fill="#222" font-weight="normal" >150</text>
<line x1="133.90" y1="312.10" x2="136.90" y2="312.10" stroke="#1a1a1a" stroke-width="1.0" />
<text x="131.2" y="314.0" font-size="5.2" text-anchor="end" fill="#222" font-weight="normal" >200</text>
<line x1="133.90" y1="298.50" x2="136.90" y2="298.50" stroke="#1a1a1a" stroke-width="1.0" />
<text x="131.2" y="300.4" font-size="5.2" text-anchor="end" fill="#222" font-weight="normal" >250</text>
<text x="141.2" y="300.2" font-size="5.4" text-anchor="start" fill="#222" font-weight="normal" >CRU per ml PB</text>
<text x="162.4" y="376.5" font-size="5.2" text-anchor="middle" fill="#222" font-weight="normal" >POL</text>
<text x="188.3" y="376.5" font-size="5.2" text-anchor="middle" fill="#222" font-weight="normal" >G-CSF</text>
<line x1="162.40" y1="311.20" x2="162.40" y2="351.50" stroke="#222" stroke-width="1.0" />
<line x1="161.10" y1="311.20" x2="163.70" y2="311.20" stroke="#222" stroke-width="1.0" />
<line x1="161.10" y1="351.50" x2="163.70" y2="351.50" stroke="#222" stroke-width="1.0" />
<circle cx="162.40" cy="337.60" r="2.3" fill="#2c4b80"/>
<line x1="188.30" y1="333.20" x2="188.30" y2="360.30" stroke="#222" stroke-width="1.0" />
<line x1="187.00" y1="333.20" x2="189.60" y2="333.20" stroke="#222" stroke-width="1.0" />
<line x1="187.00" y1="360.30" x2="189.60" y2="360.30" stroke="#222" stroke-width="1.0" />
<rect x="186.10" y="350.60" width="4.4" height="4.4" fill="#8cc96a"/>
<line x1="257.80" y1="286.00" x2="257.80" y2="366.50" stroke="#1a1a1a" stroke-width="1.3" />
<line x1="257.20" y1="366.10" x2="343.60" y2="366.10" stroke="#1a1a1a" stroke-width="1.3" />
<line x1="255.00" y1="365.90" x2="257.80" y2="365.90" stroke="#1a1a1a" stroke-width="1.0" />
<text x="253.3" y="367.79999999999995" font-size="5.2" text-anchor="end" fill="#222" font-weight="normal" >0.0</text>
<line x1="255.00" y1="350.40" x2="257.80" y2="350.40" stroke="#1a1a1a" stroke-width="1.0" />
<text x="253.3" y="352.29999999999995" font-size="5.2" text-anchor="end" fill="#222" font-weight="normal" >0.5</text>
<line x1="255.00" y1="334.90" x2="257.80" y2="334.90" stroke="#1a1a1a" stroke-width="1.0" />
<text x="253.3" y="336.79999999999995" font-size="5.2" text-anchor="end" fill="#222" font-weight="normal" >1.0</text>
<line x1="255.00" y1="319.40" x2="257.80" y2="319.40" stroke="#1a1a1a" stroke-width="1.0" />
<text x="253.3" y="321.29999999999995" font-size="5.2" text-anchor="end" fill="#222" font-weight="normal" >1.5</text>
<line x1="255.00" y1="303.90" x2="257.80" y2="303.90" stroke="#1a1a1a" stroke-width="1.0" />
<text x="253.3" y="305.79999999999995" font-size="5.2" text-anchor="end" fill="#222" font-weight="normal" >2.0</text>
<line x1="255.00" y1="288.40" x2="257.80" y2="288.40" stroke="#1a1a1a" stroke-width="1.0" />
<text x="253.3" y="290.29999999999995" font-size="5.2" text-anchor="end" fill="#222" font-weight="normal" >2.5</text>
<line x1="272.20" y1="365.90" x2="272.20" y2="368.50" stroke="#1a1a1a" stroke-width="1.0" />
<line x1="300.80" y1="365.90" x2="300.80" y2="368.50" stroke="#1a1a1a" stroke-width="1.0" />
<line x1="329.40" y1="365.90" x2="329.40" y2="368.50" stroke="#1a1a1a" stroke-width="1.0" />
<rect x="263.2" y="351.33" width="7.800000000000011" height="14.57" fill="#b80a33"/>
<rect x="274.1" y="302.97" width="7.099999999999966" height="62.93" fill="#2d4d87"/>
<rect x="320.2" y="340.48" width="7.800000000000011" height="25.42" fill="#b80a33"/>
<rect x="331.2" y="316.92" width="7.5" height="48.98" fill="#2d4d87"/>
<line x1="291.50" y1="365.20" x2="299.20" y2="365.20" stroke="#444" stroke-width="0.7" />
<text x="230.8" y="325.6" font-size="6.7" text-anchor="middle" fill="#222" font-weight="normal" transform="rotate(-90 230.8 325.6)" >CXCR4 expression</text>
<text x="240.3" y="325.0" font-size="6.7" text-anchor="middle" fill="#222" font-weight="normal" transform="rotate(-90 240.3 325.0)" >(-fold GAPDH)</text>
<rect x="324" y="286.5" width="5.3" height="5" fill="#a80e34"/>
<text x="332.3" y="291.3" font-size="5.2" text-anchor="start" fill="#222" font-weight="normal" >wBM</text>
<rect x="324" y="295.2" width="5.3" height="5" fill="#2c4b80"/>
<text x="332.3" y="300.0" font-size="5.2" text-anchor="start" fill="#222" font-weight="normal" >HSC</text>
<text x="276.5" y="374.0" font-size="5.5" text-anchor="end" fill="#222" transform="rotate(-45 276.5 374.0)">wt (test BM)</text>
<text x="304.8" y="374.0" font-size="5.5" text-anchor="end" fill="#222" transform="rotate(-45 304.8 374.0)">CXCR4<tspan dy="-2" font-size="3.6">cre/lox</tspan><tspan dy="2"> (test BM)</tspan></text>
<text x="333.5" y="374.0" font-size="5.5" text-anchor="end" fill="#222" transform="rotate(-45 333.5 374.0)">wt (comp. BM)</text>
<line x1="380.30" y1="285.10" x2="380.30" y2="367.05" stroke="#1a1a1a" stroke-width="1.3" />
<line x1="379.65" y1="366.40" x2="512.80" y2="366.40" stroke="#1a1a1a" stroke-width="1.3" />
<line x1="377.30" y1="366.40" x2="380.30" y2="366.40" stroke="#1a1a1a" stroke-width="1.0" />
<text x="374.0" y="368.272" font-size="5.2" text-anchor="end" fill="#222" font-weight="normal" >0</text>
<line x1="377.30" y1="350.70" x2="380.30" y2="350.70" stroke="#1a1a1a" stroke-width="1.0" />
<text x="374.0" y="352.572" font-size="5.2" text-anchor="end" fill="#222" font-weight="normal" >20</text>
<line x1="377.30" y1="335.00" x2="380.30" y2="335.00" stroke="#1a1a1a" stroke-width="1.0" />
<text x="374.0" y="336.872" font-size="5.2" text-anchor="end" fill="#222" font-weight="normal" >40</text>
<line x1="377.30" y1="319.30" x2="380.30" y2="319.30" stroke="#1a1a1a" stroke-width="1.0" />
<text x="374.0" y="321.17199999999997" font-size="5.2" text-anchor="end" fill="#222" font-weight="normal" >60</text>
<line x1="377.30" y1="303.60" x2="380.30" y2="303.60" stroke="#1a1a1a" stroke-width="1.0" />
<text x="374.0" y="305.472" font-size="5.2" text-anchor="end" fill="#222" font-weight="normal" >80</text>
<line x1="377.30" y1="287.90" x2="380.30" y2="287.90" stroke="#1a1a1a" stroke-width="1.0" />
<text x="374.0" y="289.772" font-size="5.2" text-anchor="end" fill="#222" font-weight="normal" >100</text>
<line x1="380.30" y1="366.40" x2="380.30" y2="369.40" stroke="#1a1a1a" stroke-width="1.0" />
<text x="380.3" y="377.59999999999997" font-size="5.2" text-anchor="middle" fill="#222" font-weight="normal" >0</text>
<line x1="406.40" y1="366.40" x2="406.40" y2="369.40" stroke="#1a1a1a" stroke-width="1.0" />
<text x="406.40000000000003" y="377.59999999999997" font-size="5.2" text-anchor="middle" fill="#222" font-weight="normal" >5</text>
<line x1="432.50" y1="366.40" x2="432.50" y2="369.40" stroke="#1a1a1a" stroke-width="1.0" />
<text x="432.5" y="377.59999999999997" font-size="5.2" text-anchor="middle" fill="#222" font-weight="normal" >10</text>
<line x1="458.60" y1="366.40" x2="458.60" y2="369.40" stroke="#1a1a1a" stroke-width="1.0" />
<text x="458.6" y="377.59999999999997" font-size="5.2" text-anchor="middle" fill="#222" font-weight="normal" >15</text>
<line x1="484.70" y1="366.40" x2="484.70" y2="369.40" stroke="#1a1a1a" stroke-width="1.0" />
<text x="484.7" y="377.59999999999997" font-size="5.2" text-anchor="middle" fill="#222" font-weight="normal" >20</text>
<line x1="510.80" y1="366.40" x2="510.80" y2="369.40" stroke="#1a1a1a" stroke-width="1.0" />
<text x="510.8" y="377.59999999999997" font-size="5.2" text-anchor="middle" fill="#222" font-weight="normal" >25</text>
<text x="446.5" y="387.4" font-size="6.7" text-anchor="middle" fill="#222" font-weight="normal" >wks after Tx</text>
<text x="359.8" y="327.0" font-size="6.7" text-anchor="middle" fill="#222" font-weight="normal" transform="rotate(-90 359.8 327.0)" >% 45_2+ of CD45+ CD3-</text>
<line x1="401.18" y1="303.99" x2="401.18" y2="313.41" stroke="#5f9f38" stroke-width="0.9" />
<line x1="399.18" y1="303.99" x2="403.18" y2="303.99" stroke="#5f9f38" stroke-width="0.9" />
<line x1="399.18" y1="313.41" x2="403.18" y2="313.41" stroke="#5f9f38" stroke-width="0.9" />
<line x1="422.06" y1="354.78" x2="422.06" y2="361.06" stroke="#5f9f38" stroke-width="0.9" />
<line x1="420.06" y1="354.78" x2="424.06" y2="354.78" stroke="#5f9f38" stroke-width="0.9" />
<line x1="420.06" y1="361.06" x2="424.06" y2="361.06" stroke="#5f9f38" stroke-width="0.9" />
<line x1="442.94" y1="355.80" x2="442.94" y2="363.65" stroke="#5f9f38" stroke-width="0.9" />
<line x1="440.94" y1="355.80" x2="444.94" y2="355.80" stroke="#5f9f38" stroke-width="0.9" />
<line x1="440.94" y1="363.65" x2="444.94" y2="363.65" stroke="#5f9f38" stroke-width="0.9" />
<line x1="463.82" y1="355.02" x2="463.82" y2="362.87" stroke="#5f9f38" stroke-width="0.9" />
<line x1="461.82" y1="355.02" x2="465.82" y2="355.02" stroke="#5f9f38" stroke-width="0.9" />
<line x1="461.82" y1="362.87" x2="465.82" y2="362.87" stroke="#5f9f38" stroke-width="0.9" />
<line x1="484.70" y1="349.52" x2="484.70" y2="362.08" stroke="#5f9f38" stroke-width="0.9" />
<line x1="482.70" y1="349.52" x2="486.70" y2="349.52" stroke="#5f9f38" stroke-width="0.9" />
<line x1="482.70" y1="362.08" x2="486.70" y2="362.08" stroke="#5f9f38" stroke-width="0.9" />
<polyline points="380.30,305.01 390.74,294.42 401.18,308.70 422.06,357.92 442.94,359.73 463.82,358.94 484.70,355.80" fill="none" stroke="#68ad3e" stroke-width="1.6" stroke-linejoin="round"/>
<polygon points="380.30,302.83 382.28,306.40 378.32,306.40" fill="#68ad3e"/>
<polygon points="390.74,292.24 392.72,295.80 388.76,295.80" fill="#68ad3e"/>
<polygon points="401.18,306.52 403.16,310.09 399.20,310.09" fill="#68ad3e"/>
<polygon points="422.06,355.74 424.04,359.31 420.08,359.31" fill="#68ad3e"/>
<polygon points="442.94,357.55 444.92,361.11 440.96,361.11" fill="#68ad3e"/>
<polygon points="463.82,356.76 465.80,360.33 461.84,360.33" fill="#68ad3e"/>
<polygon points="484.70,353.62 486.68,357.19 482.72,357.19" fill="#68ad3e"/>
<line x1="390.74" y1="314.98" x2="390.74" y2="319.69" stroke="#24406e" stroke-width="0.9" />
<line x1="388.74" y1="314.98" x2="392.74" y2="314.98" stroke="#24406e" stroke-width="0.9" />
<line x1="388.74" y1="319.69" x2="392.74" y2="319.69" stroke="#24406e" stroke-width="0.9" />
<line x1="401.18" y1="340.89" x2="401.18" y2="351.88" stroke="#24406e" stroke-width="0.9" />
<line x1="399.18" y1="340.89" x2="403.18" y2="340.89" stroke="#24406e" stroke-width="0.9" />
<line x1="399.18" y1="351.88" x2="403.18" y2="351.88" stroke="#24406e" stroke-width="0.9" />
<line x1="422.06" y1="361.85" x2="422.06" y2="364.20" stroke="#24406e" stroke-width="0.9" />
<line x1="420.06" y1="361.85" x2="424.06" y2="361.85" stroke="#24406e" stroke-width="0.9" />
<line x1="420.06" y1="364.20" x2="424.06" y2="364.20" stroke="#24406e" stroke-width="0.9" />
<line x1="442.94" y1="362.87" x2="442.94" y2="365.22" stroke="#24406e" stroke-width="0.9" />
<line x1="440.94" y1="362.87" x2="444.94" y2="362.87" stroke="#24406e" stroke-width="0.9" />
<line x1="440.94" y1="365.22" x2="444.94" y2="365.22" stroke="#24406e" stroke-width="0.9" />
<line x1="463.82" y1="362.87" x2="463.82" y2="365.22" stroke="#24406e" stroke-width="0.9" />
<line x1="461.82" y1="362.87" x2="465.82" y2="362.87" stroke="#24406e" stroke-width="0.9" />
<line x1="461.82" y1="365.22" x2="465.82" y2="365.22" stroke="#24406e" stroke-width="0.9" />
<line x1="484.70" y1="362.87" x2="484.70" y2="365.22" stroke="#24406e" stroke-width="0.9" />
<line x1="482.70" y1="362.87" x2="486.70" y2="362.87" stroke="#24406e" stroke-width="0.9" />
<line x1="482.70" y1="365.22" x2="486.70" y2="365.22" stroke="#24406e" stroke-width="0.9" />
<polyline points="380.30,324.79 390.74,317.34 401.18,346.38 422.06,363.02 442.94,364.04 463.82,364.04 484.70,364.04" fill="none" stroke="#2c4b80" stroke-width="1.6" stroke-linejoin="round"/>
<rect x="378.68" y="323.17" width="3.24" height="3.24" fill="#2c4b80"/>
<rect x="389.12" y="315.72" width="3.24" height="3.24" fill="#2c4b80"/>
<rect x="399.56" y="344.76" width="3.24" height="3.24" fill="#2c4b80"/>
<rect x="420.44" y="361.40" width="3.24" height="3.24" fill="#2c4b80"/>
<rect x="441.32" y="362.42" width="3.24" height="3.24" fill="#2c4b80"/>
<rect x="462.20" y="362.42" width="3.24" height="3.24" fill="#2c4b80"/>
<rect x="483.08" y="362.42" width="3.24" height="3.24" fill="#2c4b80"/>
<line x1="380.30" y1="324.32" x2="380.30" y2="327.46" stroke="#8a0b2a" stroke-width="0.9" />
<line x1="378.30" y1="324.32" x2="382.30" y2="324.32" stroke="#8a0b2a" stroke-width="0.9" />
<line x1="378.30" y1="327.46" x2="382.30" y2="327.46" stroke="#8a0b2a" stroke-width="0.9" />
<line x1="390.74" y1="317.57" x2="390.74" y2="322.28" stroke="#8a0b2a" stroke-width="0.9" />
<line x1="388.74" y1="317.57" x2="392.74" y2="317.57" stroke="#8a0b2a" stroke-width="0.9" />
<line x1="388.74" y1="322.28" x2="392.74" y2="322.28" stroke="#8a0b2a" stroke-width="0.9" />
<line x1="401.18" y1="317.34" x2="401.18" y2="322.05" stroke="#8a0b2a" stroke-width="0.9" />
<line x1="399.18" y1="317.34" x2="403.18" y2="317.34" stroke="#8a0b2a" stroke-width="0.9" />
<line x1="399.18" y1="322.05" x2="403.18" y2="322.05" stroke="#8a0b2a" stroke-width="0.9" />
<line x1="422.06" y1="315.38" x2="422.06" y2="320.08" stroke="#8a0b2a" stroke-width="0.9" />
<line x1="420.06" y1="315.38" x2="424.06" y2="315.38" stroke="#8a0b2a" stroke-width="0.9" />
<line x1="420.06" y1="320.08" x2="424.06" y2="320.08" stroke="#8a0b2a" stroke-width="0.9" />
<line x1="442.94" y1="311.84" x2="442.94" y2="318.12" stroke="#8a0b2a" stroke-width="0.9" />
<line x1="440.94" y1="311.84" x2="444.94" y2="311.84" stroke="#8a0b2a" stroke-width="0.9" />
<line x1="440.94" y1="318.12" x2="444.94" y2="318.12" stroke="#8a0b2a" stroke-width="0.9" />
<line x1="463.82" y1="309.49" x2="463.82" y2="320.48" stroke="#8a0b2a" stroke-width="0.9" />
<line x1="461.82" y1="309.49" x2="465.82" y2="309.49" stroke="#8a0b2a" stroke-width="0.9" />
<line x1="461.82" y1="320.48" x2="465.82" y2="320.48" stroke="#8a0b2a" stroke-width="0.9" />
<line x1="484.70" y1="311.61" x2="484.70" y2="324.17" stroke="#8a0b2a" stroke-width="0.9" />
<line x1="482.70" y1="311.61" x2="486.70" y2="311.61" stroke="#8a0b2a" stroke-width="0.9" />
<line x1="482.70" y1="324.17" x2="486.70" y2="324.17" stroke="#8a0b2a" stroke-width="0.9" />
<polyline points="380.30,325.89 390.74,319.93 401.18,319.69 422.06,317.73 442.94,314.98 463.82,314.98 484.70,317.89" fill="none" stroke="#a80e34" stroke-width="1.6" stroke-linejoin="round"/>
<circle cx="380.30" cy="325.89" r="1.9" fill="#a80e34"/>
<circle cx="390.74" cy="319.93" r="1.9" fill="#a80e34"/>
<circle cx="401.18" cy="319.69" r="1.9" fill="#a80e34"/>
<circle cx="422.06" cy="317.73" r="1.9" fill="#a80e34"/>
<circle cx="442.94" cy="314.98" r="1.9" fill="#a80e34"/>
<circle cx="463.82" cy="314.98" r="1.9" fill="#a80e34"/>
<circle cx="484.70" cy="317.89" r="1.9" fill="#a80e34"/>
<ellipse cx="462.5" cy="288.8" rx="2.3" ry="1.8" fill="#9a0d2e"/>
<text x="468" y="290.8" font-size="5.4" text-anchor="start" fill="#222" font-weight="normal" >ctr</text>
<rect x="460.60" y="294.40" width="3.8" height="3.8" fill="#2c4b80"/>
<text x="468" y="298.3" font-size="5.6" text-anchor="start" fill="#222" font-weight="normal" >CXCR4 <tspan dy="-2.6" font-size="3.4">cre/lox</tspan><tspan dy="2.6"> (1:1)</tspan></text>
<polygon points="462.50,302.40 464.50,306.00 460.50,306.00" fill="#68ad3e"/>
<text x="468" y="306.6" font-size="5.6" text-anchor="start" fill="#222" font-weight="normal" >CXCR4 <tspan dy="-2.6" font-size="3.4">cre/lox</tspan><tspan dy="2.6"> (3:1)</tspan></text>
<rect x="0" y="0" width="520" height="1.1" fill="#000"/><rect x="0" y="0" width="1.3" height="420" fill="#000"/><rect x="518.4" y="0" width="1.6" height="420" fill="#000"/><rect x="0" y="418.3" width="520" height="1.7" fill="#000"/>
</svg>
</body></html>
